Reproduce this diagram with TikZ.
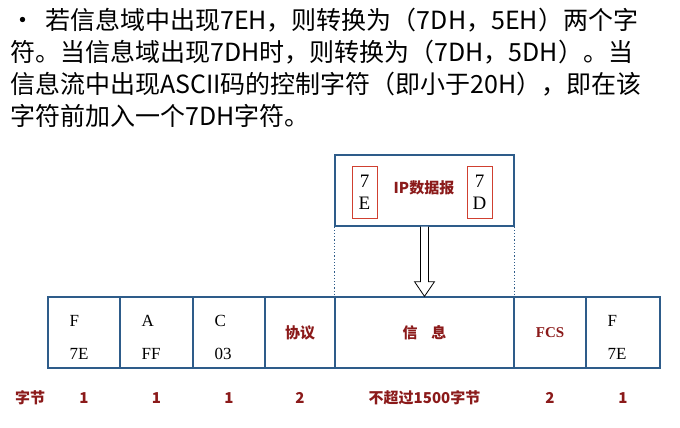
\documentclass[tikz,border=0pt]{standalone}
\usepackage{fontspec}
\setmainfont{Liberation Serif}
\newfontfamily\cjk{Noto Sans CJK SC}
\definecolor{fb}{HTML}{2E5C8A}
\definecolor{dr}{HTML}{8B1A1A}
\definecolor{rb}{HTML}{D04030}
\begin{document}
\begin{tikzpicture}[x=1pt,y=-1pt,
  cell/.style={draw=fb,line width=1.3pt},
  tl/.style={anchor=west,inner sep=0,font=\fontsize{25}{25}\selectfont\cjk},
  rl/.style={text=dr,font=\fontsize{15}{15}\selectfont\bfseries\cjk,inner sep=0},
  bl/.style={font=\fontsize{17}{17}\selectfont,inner sep=0},
  by/.style={text=dr,font=\fontsize{15}{15}\selectfont\bfseries\cjk,inner sep=0}]
\useasboundingbox (0,0) rectangle (680,428);
\node[tl] (l1) at (10,20) {•\hspace{10pt}若信息域中出现7EH，则转换为（7DH，5EH）两个字};
\node[tl] (l2) at (10,52) {符。当信息域出现7DH时，则转换为（7DH，5DH）。当};
\node[tl] (l3) at (10,84) {信息流中出现ASCII码的控制字符（即小于20H），即在该};
\node[tl] (l4) at (10,116) {字符前加入一个7DH字符。};
% top box
\node[cell,minimum width=179pt,minimum height=71pt,inner sep=0] (ip) at (424.5,190.5) {};
\node[draw=rb,line width=0.8pt,minimum width=25pt,minimum height=52pt,inner sep=0,align=center,font=\fontsize{19}{22}\selectfont] (e7) at (364.5,192) {7\\E};
\node[draw=rb,line width=0.8pt,minimum width=25pt,minimum height=52pt,inner sep=0,align=center,font=\fontsize{19}{22}\selectfont] (d7) at (479.5,192) {7\\D};
\node[rl] (ipt) at (424,188) {IP数据报};
% frame
\foreach \a/\b/\n in {48/120/c1,120/193/c2,193/265/c3,265/335/c4,335/514/c5,514/586/c6,586/660/c7}{
  \node[cell,minimum width={\b-\a},minimum height=71pt,inner sep=0] (\n) at ({(\a+\b)/2},332.5) {};
}
\draw[fb,line width=1.2pt,dotted] (ip.south west) -- (c5.north west);
\draw[fb,line width=1.2pt,dotted] (ip.south east) -- (c5.north east);
\coordinate (at) at (ip.south);
\coordinate (ab) at (c5.north);
\draw[line width=0.8pt,fill=white] ([xshift=-4pt]at) -- ([xshift=-4pt,yshift=-55pt]at) -- ([xshift=-10pt,yshift=-55pt]at) -- (ab) -- ([xshift=10pt,yshift=-55pt]at) -- ([xshift=4pt,yshift=-55pt]at) -- ([xshift=4pt]at);
\foreach \n/\t/\b in {c1/F/7E,c2/A/FF,c3/C/03,c7/F/7E}{
  \node[bl,anchor=west] at ([xshift=22pt,yshift=12pt]\n.west) {\t};
  \node[bl,anchor=west] at ([xshift=22pt,yshift=-21pt]\n.west) {\b};
}
\node[rl] at (c4) {协议};
\node[rl] at (c5) {信\hspace{14pt}息};
\node[rl,font=\fontsize{15}{15}\selectfont\bfseries] at (c6) {FCS};
\node[by] (b0) at (30,398) {字节};
\foreach \n/\v in {c1/1,c2/1,c3/1,c4/2,c6/2,c7/1}{
  \node[by] at (\n.center |- b0) {\v};
}
\node[by] at (c5.center |- b0) {不超过1500字节};
\end{tikzpicture}
\end{document}
